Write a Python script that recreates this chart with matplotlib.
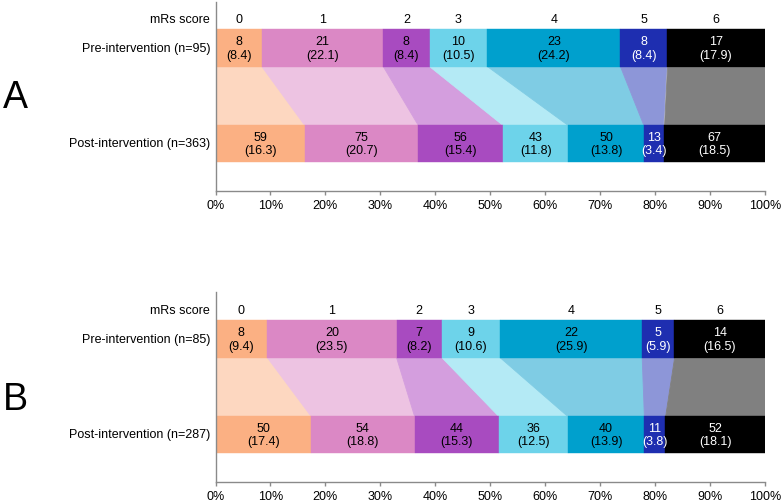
import matplotlib
matplotlib.use("Agg")
import matplotlib.pyplot as plt
from matplotlib.patches import Polygon
import matplotlib.transforms as mtransforms

plt.rcParams['font.family'] = ['Liberation Sans', 'DejaVu Sans']

scores = ["0", "1", "2", "3", "4", "5", "6"]
colors = ["#FBB083", "#DB88C5", "#A84BC0", "#6DD3EA", "#00A0CD", "#1E2EB0", "#000000"]
light = ["#FDD7C0", "#EDC3E2", "#D49EDE", "#B4EAF5", "#7FCCE4", "#8D96D8", "#808080"]
text_colors = ["black", "black", "black", "black", "black", "white", "white"]

panel_letters = ["A", "B"]
pre_labels = ["Pre-intervention (n=95)", "Pre-intervention (n=85)"]
post_labels = ["Post-intervention (n=363)", "Post-intervention (n=287)"]

pre_counts_A = [8, 21, 8, 10, 23, 8, 17]
pre_pct_A = ["8.4", "22.1", "8.4", "10.5", "24.2", "8.4", "17.9"]
post_counts_A = [59, 75, 56, 43, 50, 13, 67]
post_pct_A = ["16.3", "20.7", "15.4", "11.8", "13.8", "3.4", "18.5"]

pre_counts_B = [8, 20, 7, 9, 22, 5, 14]
pre_pct_B = ["9.4", "23.5", "8.2", "10.6", "25.9", "5.9", "16.5"]
post_counts_B = [50, 54, 44, 36, 40, 11, 52]
post_pct_B = ["17.4", "18.8", "15.3", "12.5", "13.9", "3.8", "18.1"]

tick_vals = [0, 10, 20, 30, 40, 50, 60, 70, 80, 90, 100]

panels = [
    (pre_counts_A, pre_pct_A, post_counts_A, post_pct_A),
    (pre_counts_B, pre_pct_B, post_counts_B, post_pct_B),
]

W, H = 784, 502
fig = plt.figure(figsize=(W / 100, H / 100), dpi=100)

x0, x1 = 215.5, 765.0
axes_px = [(3, 192), (293, 483)]  # top, bottom in pixels

# y layout in pixel-like units measured from axis bottom
bot_lo, bot_hi = 29, 66
top_lo, top_hi = 124, 162
head_y = 172
spine_col = "#8a8a8a"

def cum(vals):
    out = [0.0]
    for v in vals:
        out.append(out[-1] + v)
    return out

for k, (pc, pp, qc, qp) in enumerate(panels):
    t, b = axes_px[k]
    ax = fig.add_axes([x0 / W, (H - b) / H, (x1 - x0) / W, (b - t) / H])
    ax.set_xlim(0, 100)
    ax.set_ylim(0, b - t)
    pre_w = [c / sum(pc) * 100 for c in pc]
    post_w = [c / sum(qc) * 100 for c in qc]
    pre_left = cum(pre_w)
    post_left = cum(post_w)

    for i in range(len(scores)):
        poly = Polygon([(pre_left[i], top_lo + 0.5), (pre_left[i + 1], top_lo + 0.5),
                        (post_left[i + 1], bot_hi - 0.5), (post_left[i], bot_hi - 0.5)],
                       closed=True, facecolor=light[i], edgecolor=light[i], linewidth=0.6,
                       zorder=1)
        ax.add_patch(poly)

    ax.barh((top_lo + top_hi) / 2, pre_w, left=pre_left[:-1], height=top_hi - top_lo,
            color=colors, edgecolor=colors, linewidth=0.3, zorder=2)
    ax.barh((bot_lo + bot_hi) / 2, post_w, left=post_left[:-1], height=bot_hi - bot_lo,
            color=colors, edgecolor=colors, linewidth=0.3, zorder=2)

    for i in range(len(scores)):
        cx = (pre_left[i] + pre_left[i + 1]) / 2
        ax.text(cx, (top_lo + top_hi) / 2, f"{pc[i]}\n({pp[i]})", ha="center", va="center",
                fontsize=9, color=text_colors[i], linespacing=1.2, zorder=3)
        ax.text(cx, head_y, scores[i], ha="center", va="center", fontsize=9, color="black")
        cx2 = (post_left[i] + post_left[i + 1]) / 2
        ax.text(cx2, (bot_lo + bot_hi) / 2, f"{qc[i]}\n({qp[i]})", ha="center", va="center",
                fontsize=9, color=text_colors[i], linespacing=1.2, zorder=3)

    trans = mtransforms.blended_transform_factory(ax.transAxes, ax.transData)
    ax.text(-0.01, head_y, "mRs score", transform=trans, ha="right", va="center", fontsize=9)
    ax.text(-0.01, (top_lo + top_hi) / 2, pre_labels[k], transform=trans, ha="right",
            va="center", fontsize=9)
    ax.text(-0.01, (bot_lo + bot_hi) / 2, post_labels[k], transform=trans, ha="right",
            va="center", fontsize=9)

    ax.set_xticks(tick_vals)
    ax.set_xticklabels([f"{v}%" for v in tick_vals], fontsize=9)
    ax.set_yticks([])
    for s in ["top", "right"]:
        ax.spines[s].set_visible(False)
    for s in ["left", "bottom"]:
        ax.spines[s].set_color(spine_col)
        ax.spines[s].set_linewidth(1.0)
    ax.tick_params(axis="x", length=3, width=1, color=spine_col, pad=3)

    letter_y = 98 if k == 0 else 400
    fig.text(15 / W, 1 - letter_y / H, panel_letters[k], ha="center", va="center",
             fontsize=27)

fig.savefig("out.png", dpi=100)
